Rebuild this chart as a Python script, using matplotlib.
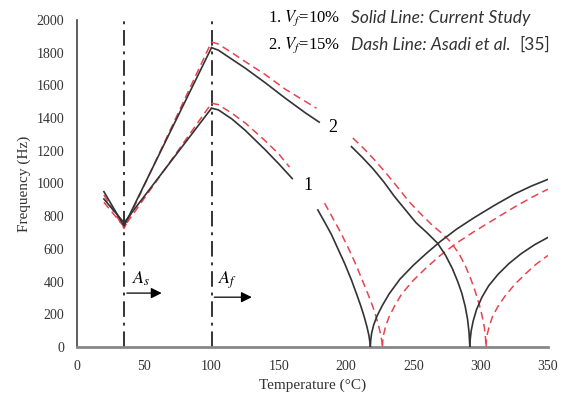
import matplotlib.pyplot as plt

plt.rcParams["font.family"] = ["Liberation Serif", "DejaVu Serif"]
plt.rcParams["mathtext.fontset"] = "stix"

# Vf = 10 % (curve 1) -- current study (solid) and Asadi et al. (dashed)
c1_rise_T = [20, 35, 100]
c1_rise_f = [905, 760, 1460]
c1_rise_ref_f = [885, 735, 1490]

c1_fall_T = [100, 105, 115, 125, 140, 150, 160]
c1_fall_f = [1460, 1450, 1395, 1325, 1205, 1120, 1030]
c1_fall_ref_T = [100, 105, 115, 125, 140, 150, 158]
c1_fall_ref_f = [1490, 1482, 1430, 1370, 1260, 1180, 1100]

c1_tail_T = [179, 184, 189, 194, 199, 204, 208, 211, 213.5, 215.5, 217, 217.7, 218]
c1_tail_f = [838, 765, 690, 600, 510, 410, 320, 250, 185, 125, 70, 30, 0]
c1_tail_ref_T = [184, 190, 196, 202, 207, 212, 216, 220, 222.5, 224.5, 226, 226.7, 227]
c1_tail_ref_f = [880, 790, 700, 600, 510, 410, 330, 245, 180, 120, 65, 30, 0]

c1_post_T = [218, 218.3, 219, 220.5, 223, 227, 232, 240, 250, 260, 270, 282,
             295, 310, 325, 338, 350]
c1_post_f = [0, 40, 85, 135, 190, 255, 325, 415, 500, 575, 645, 720,
             790, 865, 935, 985, 1025]
c1_post_ref_T = [227, 227.3, 228, 229.5, 232, 236, 241, 249, 259, 270, 282,
                 295, 310, 325, 338, 350]
c1_post_ref_f = [0, 40, 80, 130, 185, 250, 320, 400, 480, 560, 635,
                 705, 780, 855, 915, 965]

# Vf = 15 % (curve 2)
c2_rise_T = [20, 35, 100]
c2_rise_f = [950, 740, 1830]
c2_rise_ref_f = [930, 725, 1865]

c2_fall_T = [100, 105, 115, 125, 140, 155, 170, 180]
c2_fall_f = [1830, 1815, 1760, 1705, 1615, 1520, 1430, 1375]
c2_fall_ref_T = [100, 105, 115, 125, 140, 155, 170, 178]
c2_fall_ref_f = [1865, 1852, 1800, 1745, 1665, 1575, 1500, 1460]

c2_tail_T = [204, 212, 220, 228, 236, 244, 252, 260, 268, 274, 279, 283,
             286, 288.5, 290.3, 291.4, 292]
c2_tail_f = [1225, 1160, 1090, 1010, 920, 840, 760, 700, 635, 560, 480, 400,
             330, 250, 170, 90, 0]
c2_tail_ref_T = [205, 213, 221, 229, 238, 247, 256, 264, 272, 278, 284, 289,
                 293, 296, 299, 301, 302.8, 303.6, 304]
c2_tail_ref_f = [1278, 1215, 1145, 1070, 980, 887, 810, 745, 690, 640, 570,
                 490, 410, 340, 260, 195, 120, 60, 0]

c2_post_T = [292, 292.3, 293, 294.5, 297, 301, 306, 313, 321, 330, 340, 350]
c2_post_f = [0, 50, 100, 160, 230, 305, 375, 445, 510, 570, 625, 670]
c2_post_ref_T = [304, 304.3, 305, 306.5, 309, 313, 318, 325, 333, 341, 350]
c2_post_ref_f = [0, 40, 80, 130, 190, 250, 310, 380, 445, 505, 560]

A_S = 35
A_F = 100

SOLID = "#333333"
DASH = "#e8434f"


def main():
    fig = plt.figure(figsize=(5.66, 4.05), dpi=100)
    ax = fig.add_axes([0.136, 0.143, 0.832, 0.808])

    solid = [
        (c1_rise_T, c1_rise_f), (c1_fall_T, c1_fall_f),
        (c1_tail_T, c1_tail_f), (c1_post_T, c1_post_f),
        (c2_rise_T, c2_rise_f), (c2_fall_T, c2_fall_f),
        (c2_tail_T, c2_tail_f), (c2_post_T, c2_post_f),
    ]
    dashed = [
        (c1_rise_T, c1_rise_ref_f), (c1_fall_ref_T, c1_fall_ref_f),
        (c1_tail_ref_T, c1_tail_ref_f), (c1_post_ref_T, c1_post_ref_f),
        (c2_rise_T, c2_rise_ref_f), (c2_fall_ref_T, c2_fall_ref_f),
        (c2_tail_ref_T, c2_tail_ref_f), (c2_post_ref_T, c2_post_ref_f),
    ]
    for t, f in dashed:
        ax.plot(t, f, color=DASH, lw=1.1, dashes=(5, 3), zorder=2)
    for t, f in solid:
        ax.plot(t, f, color=SOLID, lw=1.2, zorder=3)

    # austenite start / finish
    for t in (A_S, A_F):
        ax.plot([t, t], [0, 2000], color=SOLID, lw=1.4,
                dashes=(8, 3, 1.5, 3), zorder=1)
    ax.annotate("", xy=(65, 330), xytext=(A_S, 330),
                arrowprops=dict(arrowstyle="-|>", color="black", lw=0.9,
                                mutation_scale=16))
    ax.annotate("", xy=(132, 305), xytext=(A_F, 305),
                arrowprops=dict(arrowstyle="-|>", color="black", lw=0.9,
                                mutation_scale=16))
    ax.text(41, 420, "$A_s$", fontsize=13, va="center")
    ax.text(105, 410, "$A_f$", fontsize=13, va="center")

    ax.text(172, 990, "1", fontsize=13, ha="center", va="center")
    ax.text(190, 1340, "2", fontsize=13, ha="center", va="center")

    ax.text(142, 2010, "1. $V_f$=10%", fontsize=12, va="center")
    ax.text(142, 1847, "2. $V_f$=15%", fontsize=12, va="center")
    ax.text(204, 2010, "Solid Line: Current Study", fontsize=12.5,
            style="italic", family="Lato", color="#333333", va="center")
    ref = ax.text(204, 1847, "Dash Line: Asadi et al.", fontsize=12.5,
                  style="italic", family="Lato", color="#333333", va="center")

    # put the upright citation right after the italic text
    fig.canvas.draw()
    bb = ref.get_window_extent()
    x_end = ax.transData.inverted().transform((bb.x1, bb.y0))[0]
    ax.text(x_end + 2, 1847, "[35]", fontsize=12.5, family="Lato",
            color="#333333", va="center")

    ax.set_xlim(0, 350)
    ax.set_ylim(0, 2000)
    ax.set_xticks(range(0, 351, 50))
    ax.set_yticks(range(0, 2001, 200))
    ax.tick_params(length=0, labelsize=10, pad=9, colors="#333333")
    ax.set_xlabel("Temperature (°C)", fontsize=11, color="#333333")
    ax.set_ylabel("Frequency (Hz)", fontsize=11, color="#333333")
    for side in ("top", "right"):
        ax.spines[side].set_visible(False)
    ax.spines["left"].set_color("#444444")
    ax.spines["left"].set_linewidth(1.2)
    ax.spines["bottom"].set_color("#888888")
    ax.spines["bottom"].set_linewidth(2)

    fig.savefig("out.png", dpi=100)


if __name__ == "__main__":
    main()
